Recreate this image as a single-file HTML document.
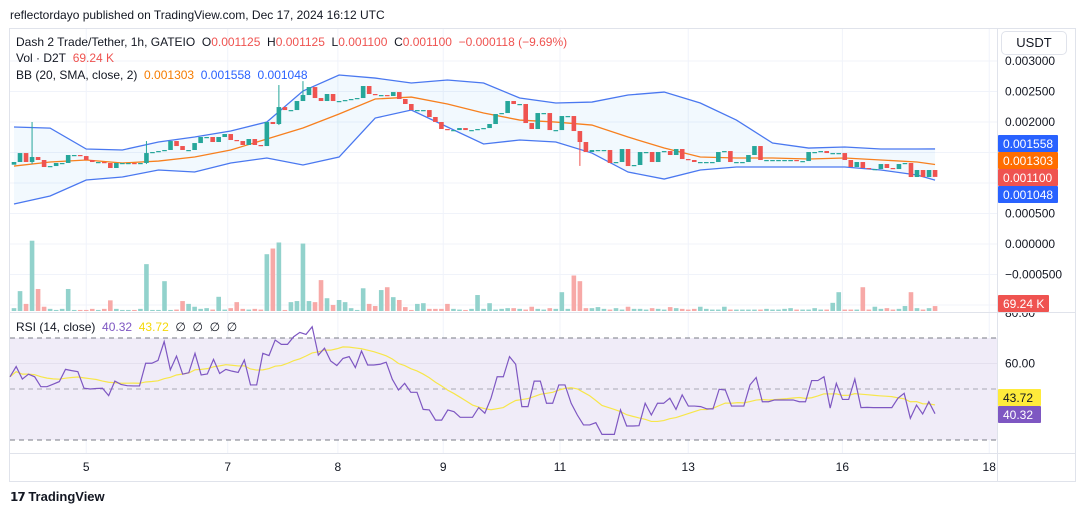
<!DOCTYPE html>
<html><head><meta charset="utf-8">
<style>
html,body{margin:0;padding:0;background:#fff;}
body{width:1080px;height:515px;position:relative;overflow:hidden;font-family:"Liberation Sans",sans-serif;color:#131722;}
.t{position:absolute;font-size:12px;white-space:nowrap;line-height:14px;}
.r{color:#ef5350}.o{color:#f57c00}.b{color:#2962ff}
svg{position:absolute;left:0;top:0}
</style></head><body>
<div class="t" style="left:10px;top:8px;">reflectordayo published on TradingView.com, Dec 17, 2024 16:12 UTC</div>
<svg id="chart" width="1080" height="515"></svg>
<div class="t" style="left:16px;top:35px;">Dash 2 Trade/Tether, 1h, GATEIO&nbsp; O<span class="r">0.001125</span>&nbsp; H<span class="r">0.001125</span>&nbsp; L<span class="r">0.001100</span>&nbsp; C<span class="r">0.001100</span>&nbsp; <span class="r">−0.000118 (−9.69%)</span></div>
<div class="t" style="left:16px;top:51px;">Vol · D2T&nbsp; <span class="r">69.24 K</span></div>
<div class="t" style="left:16px;top:68px;">BB (20, SMA, close, 2)&nbsp; <span class="o">0.001303</span>&nbsp; <span class="b">0.001558</span>&nbsp; <span class="b">0.001048</span></div>
<div class="t" style="left:16px;top:320px;">RSI (14, close)&nbsp; <span style="color:#7e57c2">40.32</span>&nbsp; <span style="color:#f5d90a">43.72</span>&nbsp; ∅&nbsp; ∅&nbsp; ∅&nbsp; ∅</div>
<div style="position:absolute;left:1001px;top:31px;width:64px;height:22px;border:1px solid #e0e3eb;border-radius:5px;background:#fff;font-size:13px;line-height:22px;text-align:center;">USDT</div>
<div style="position:absolute;left:10px;top:489px;font-size:13px;font-weight:bold;color:#131722;"><span style="font-size:12px;letter-spacing:-1px;">𝟭𝟳</span> TradingView</div>
<script>
const closes=[0.001344,0.001491,0.001344,0.001426,0.001377,0.001262,0.001278,0.001328,0.001328,0.001459,
0.001459,0.001442,0.001377,0.001344,0.001344,0.001328,0.001246,0.001328,0.001328,0.001328,
0.001311,0.001328,0.001491,0.001508,0.001524,0.001541,0.001688,0.001606,0.001541,0.001541,
0.001655,0.001754,0.001754,0.001672,0.001754,0.001803,0.001705,0.001688,0.001623,0.001721,
0.001623,0.001606,0.002000,0.001967,0.002245,0.002196,0.002196,0.002344,0.002442,0.002573,
0.002393,0.002344,0.002459,0.002344,0.002344,0.002360,0.002377,0.002393,0.002590,0.002459,
0.002442,0.002442,0.002426,0.002491,0.002377,0.002295,0.002196,0.002196,0.002196,0.002082,
0.002000,0.001885,0.001868,0.001868,0.001901,0.001868,0.001868,0.001885,0.001901,0.001967,
0.002131,0.002147,0.002344,0.002295,0.002295,0.001983,0.001885,0.002147,0.002147,0.001868,
0.001868,0.002098,0.002098,0.001852,0.001672,0.001508,0.001541,0.001541,0.001541,0.001328,
0.001344,0.001557,0.001278,0.001295,0.001508,0.001508,0.001344,0.001508,0.001524,0.001459,
0.001557,0.001393,0.001377,0.001344,0.001344,0.001344,0.001344,0.001508,0.001524,0.001344,
0.001344,0.001344,0.001459,0.001606,0.001377,0.001377,0.001377,0.001377,0.001377,0.001377,
0.001360,0.001360,0.001508,0.001508,0.001524,0.001491,0.001491,0.001491,0.001377,0.001262,
0.001344,0.001246,0.001229,0.001229,0.001311,0.001246,0.001229,0.001311,0.001328,0.001098,
0.001213,0.001098,0.001213,0.001100];
const firstOpen=0.001300;
const wicks=[{i:3,high:0.002000,low:0.001311},{i:22,high:0.001688,low:0.001311},{i:44,high:0.002606,low:0.001950},{i:42,high:0.002000,low:0.001770},{i:48,high:0.002670,low:0.002344},{i:94,high:0.001672,low:0.001280}];
const volumes=[40,280,100,990,310,60,30,15,30,310,15,15,15,30,15,30,150,30,15,15,
15,30,660,15,15,420,15,20,140,100,60,30,40,20,200,20,40,125,30,20,
30,20,800,880,965,15,125,140,950,140,125,435,180,85,155,125,40,15,320,100,
70,295,335,195,155,55,15,100,110,30,30,30,100,30,20,15,30,225,30,110,
20,30,40,40,30,20,60,30,20,40,30,265,30,500,420,40,40,55,30,20,
40,20,60,30,30,20,40,30,20,55,40,30,20,30,60,30,20,20,60,20,
20,20,20,20,20,30,20,20,30,40,20,20,20,40,20,20,115,265,20,20,
20,335,20,60,30,40,20,30,70,265,40,20,40,69.24];
const bbUpper=[0.001918,0.001900,0.001557,0.001541,0.001672,0.001754,0.001852,0.002000,0.002508,0.002770,0.002720,0.002639,0.002688,0.002639,0.002393,0.002311,0.002327,0.002442,0.002491,0.002311,0.002032,0.001655,0.001573,0.001590,0.001557,0.001557,0.001558];
const bbMid=[0.001278,0.001344,0.001377,0.001328,0.001360,0.001426,0.001541,0.001721,0.001901,0.002131,0.002377,0.002409,0.002295,0.002147,0.002032,0.001999,0.001950,0.001754,0.001573,0.001426,0.001410,0.001410,0.001393,0.001410,0.001377,0.001344,0.001303];
const bbLower=[0.000656,0.000787,0.001049,0.001098,0.001213,0.001180,0.001328,0.001410,0.001295,0.001426,0.002065,0.002196,0.001918,0.001639,0.001705,0.001672,0.001491,0.001180,0.001065,0.001213,0.001262,0.001262,0.001262,0.001262,0.001213,0.001131,0.001048];
const bbIdx=[0,6,12,18,24,30,36,42,48,54,60,66,72,78,84,90,96,102,108,114,120,126,132,138,144,150,153];
const rsi=[54.8,58.8,53.9,55.8,54.8,50.9,50.9,51.9,52.9,57.7,57.2,56.8,50.3,50.0,50.2,50.3,47.4,53.1,51.8,51.3,
51.2,51.2,60.1,60.1,61.2,68.6,57.5,62.9,55.8,56.4,64,55.5,55.9,61.6,56.1,57.7,57,56.5,61.4,51.6,
51.6,64,63.1,69.2,67.5,67.5,70.5,72.2,71.4,74.4,63.3,66,61,59.2,62,62.7,58.4,64.9,59.4,59.4,
59.7,60.5,53.8,49.6,52.2,48.7,48.7,42,41.8,37.8,37.8,41.8,41.1,38.9,38.9,38.9,42.7,40.5,46.4,54.8,
54.8,62.7,59.7,43.1,43.1,53.1,53.1,44.4,44.4,51.6,51.6,44.4,39.8,35.9,35.9,36.8,32.2,32.2,32.2,41.8,
35.5,35.5,35.6,44.4,39.8,44.4,44.4,46.4,42,47.7,43.3,43.3,43.1,42.2,42.2,49.9,49.6,43.3,43.3,43.3,
51.6,54.5,45,45,45.7,45.7,45.7,45.7,45,45,53.3,53.3,54.8,42.5,52.2,45.9,45.9,53.9,42.7,42.8,
42.7,42.7,42.7,42.7,46.4,48.3,38.5,43.7,40.2,45,40.32];
const priceTicks=[0.003,0.0025,0.002,0.0015,0.001,0.0005,0,-0.0005,-0.001];
const rsiTicks=[80,60];
const timeLabels=["5","7","8","9","11","13","16","18"];
const timeIdx=[12,35.5,53.8,71.3,90.7,112,137.6,162];

const svg=document.getElementById('chart');
const NS='http://www.w3.org/2000/svg';
function mk(tag,attrs){const e=document.createElementNS(NS,tag);for(const k in attrs)e.setAttribute(k,attrs[k]);svg.appendChild(e);return e;}
const X0=14,STEP=6.02;
function cx(i){return X0+i*STEP;}
function py(p){return 244-p*61000;}
function ry(v){return 389-(v-50)*2.55;}
function vh(v){return v/1000*71;}
const n=rsi.length;
function rx(i){return 10+i*(935-10)/(n-1);}

let e=mk('rect',{x:9.5,y:28.5,width:1066,height:453,fill:'#fff',stroke:'#e0e3eb'});


priceTicks.forEach(p=>{const y=py(p);if(y>30&&y<311){const g=mk('line',{x1:10,x2:997,y1:y,y2:y,stroke:'#f0f3fa'});

}});
timeIdx.forEach(t=>{const x=cx(t);const g=mk('line',{x1:x,x2:x,y1:29,y2:453,stroke:'#f0f3fa'});

});
e=mk('rect',{x:10,y:ry(70),width:987,height:ry(30)-ry(70),fill:'#f0ecf8'});


e=mk('line',{x1:10,x2:997,y1:ry(60),y2:ry(60),stroke:'#e4e0ee'});


[70,50,30].forEach(v=>{const l=mk('line',{x1:10,x2:997,y1:ry(v),y2:ry(v),stroke:v==50?'#a8a8b4':'#787b86','stroke-dasharray':'5,4'});

});
e=mk('line',{x1:10,x2:1075,y1:312.5,y2:312.5,stroke:'#e0e3eb'});


e=mk('line',{x1:10,x2:1075,y1:453.5,y2:453.5,stroke:'#e0e3eb'});


e=mk('line',{x1:997.5,x2:997.5,y1:29,y2:481,stroke:'#e0e3eb'});



const opens=closes.map((c,i)=>i==0?firstOpen:closes[i-1]);
volumes.forEach((v,i)=>{const up=closes[i]>=opens[i];const h=Math.max(1,vh(v));
const r=mk('rect',{x:cx(i)-2.3,y:311-h,width:4.6,height:h,fill:up?'#92d2cc':'#f7a9a7'});

});

const up=bbIdx.map((k,j)=>[cx(k),py(bbUpper[j])]);
const lo=bbIdx.map((k,j)=>[cx(k),py(bbLower[j])]);
const md=bbIdx.map((k,j)=>[cx(k),py(bbMid[j])]);
e=mk('path',{d:'M'+up.map(p=>p.join(',')).join('L')+'L'+lo.slice().reverse().map(p=>p.join(',')).join('L')+'Z',fill:'rgba(33,150,243,0.06)'});


e=mk('polyline',{points:up.map(p=>p.join(',')).join(' '),fill:'none',stroke:'#4a78f0','stroke-width':1.3});


e=mk('polyline',{points:lo.map(p=>p.join(',')).join(' '),fill:'none',stroke:'#4a78f0','stroke-width':1.3});


e=mk('polyline',{points:md.map(p=>p.join(',')).join(' '),fill:'none',stroke:'#f7801f','stroke-width':1.3});



wicks.forEach(w=>{const l=mk('line',{x1:cx(w.i),x2:cx(w.i),y1:py(w.high),y2:py(w.low),stroke:closes[w.i]>=opens[w.i]?'#26a69a':'#ef5350'});

});
closes.forEach((c,i)=>{const o=opens[i];const upc=c>=o;const y1=py(Math.max(o,c)),y2=py(Math.min(o,c));
const r=mk('rect',{x:cx(i)-2.3,y:y1,width:4.6,height:Math.max(1.2,y2-y1),fill:upc?'#26a69a':'#ef5350'});

});

const ma=rsi.map((v,i)=>{const s=rsi.slice(Math.max(0,i-13),i+1);return s.reduce((a,b)=>a+b,0)/s.length;});
e=mk('polyline',{points:ma.map((v,i)=>rx(i)+','+ry(v)).join(' '),fill:'none',stroke:'#f7e64a','stroke-width':1.2});


e=mk('polyline',{points:rsi.map((v,i)=>rx(i)+','+ry(v)).join(' '),fill:'none',stroke:'#7e57c2','stroke-width':1.2});



priceTicks.forEach(p=>{const t=mk('text',{x:1005,y:py(p)+4,'font-size':12,'font-family':'Liberation Sans, sans-serif',fill:'#131722'});
t.textContent=(p<0?'−':'')+Math.abs(p).toFixed(6);

});
rsiTicks.forEach(v=>{const t=mk('text',{x:1005,y:(v==80?313:ry(v))+4,'font-size':12,'font-family':'Liberation Sans, sans-serif',fill:'#131722'});
t.textContent=v.toFixed(2);

});
e=mk('rect',{x:998,y:296,width:76,height:16,fill:'#fff'});


e=mk('line',{x1:997,x2:1075,y1:312.5,y2:312.5,stroke:'#e0e3eb'});


timeLabels.forEach((s,j)=>{const t=mk('text',{x:cx(timeIdx[j]),y:471,'font-size':12,'text-anchor':'middle','font-family':'Liberation Sans, sans-serif',fill:'#131722'});
t.textContent=s;

});

function badge(name,y,txt,bg,fg,w){const r=mk('rect',{x:998,y:y,width:w,height:17,fill:bg,rx:1});


const t=mk('text',{x:1003,y:y+13,'font-size':12,'font-family':'Liberation Sans, sans-serif',fill:fg});
t.textContent=txt;

}
badge('bb-upper-label',135,'0.001558','#2962ff','#fff',60);
badge('bb-basis-label',152,'0.001303','#ff6d00','#fff',60);
badge('last-price-label',169,'0.001100','#ef5350','#fff',60);
badge('bb-lower-label',186,'0.001048','#2962ff','#fff',60);
badge('volume-label',295,'69.24 K','#ef5350','#fff',51);
badge('rsi-ma-label',389,'43.72','#ffeb3b','#131722',43);
badge('rsi-value-label',406,'40.32','#7e57c2','#fff',43);
</script>
</body></html>
